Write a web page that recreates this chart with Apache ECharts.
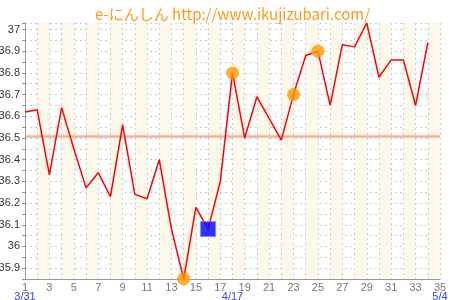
<!DOCTYPE html>
<html><head><meta charset="utf-8">
<script src="https://cdn.jsdelivr.net/npm/echarts@6/dist/echarts.min.js"></script>
<style>html,body{margin:0;padding:0;background:#fff}#c{width:450px;height:300px}</style>
</head><body><div id="c"></div>
<script>
var days = [];
for (var i = 1; i <= 35; i++) days.push(String(i));
var temps = [36.62,36.63,36.33,36.64,36.45,36.27,36.34,36.23,36.56,36.24,36.22,36.40,36.08,35.85,36.18,36.08,36.30,36.80,36.50,36.69,36.59,36.49,36.70,36.88,36.90,36.65,36.93,36.92,37.03,36.78,36.86,36.86,36.65,36.94];
var dateLabels = {1:'3/31', 18:'4/17', 35:'5/4'};
var orangeDays = [14,18,23,25];
var blueDays = [16];
var coverLine = 36.51;
var yMin = 35.85, yMax = 37.03;

var dateCats = days.map(function(d){ return dateLabels[d] || ''; });

var chart = echarts.init(document.getElementById('c'), null, {renderer:'canvas'});
chart.setOption({
  animation: false,
  title: {
    text: 'e-にんしん http://www.ikujizubari.com/',
    left: 90, top: 2,
    textStyle: {color:'#ff9a1a', fontSize:15, fontWeight:'normal', fontFamily:'Noto Sans CJK JP'}
  },
  grid: {left:25, right:10, top:23, bottom:21, containLabel:false, outerBoundsMode:'none'},
  xAxis: [{
    type:'category', data: days, boundaryGap:false,
    axisLine:{show:true, lineStyle:{color:'#999'}},
    axisTick:{show:false},
    axisLabel:{interval:1, color:'#777', fontSize:11, fontFamily:'Liberation Sans', margin:3},
    splitLine:{show:true, interval:0, lineStyle:{color:'#ccc', type:[2,3]}},
    splitArea:{show:true, interval:0, areaStyle:{color:['rgba(255,255,255,0)','#fdf8ea']}}
  },{
    type:'category', data: dateCats, boundaryGap:false, position:'bottom', offset:9,
    axisLine:{show:false}, axisTick:{show:false},
    axisLabel:{interval:0, color:'#3344ee', fontSize:11, fontFamily:'Liberation Sans', margin:3},
    splitLine:{show:false}
  }],
  yAxis: {
    type:'value', min:yMin, max:yMax, interval:0.05,
    axisLine:{show:true, lineStyle:{color:'#999'}},
    axisTick:{show:true, length:3, lineStyle:{color:'#999'}},
    axisLabel:{
      color:'#333', fontSize:11, fontFamily:'Liberation Sans', margin:5,
      formatter:function(v){
        var t = Math.round(v*10)/10;
        if (Math.abs(v - t) > 0.001) return '';
        return String(t);
      }
    },
    splitLine:{show:true, lineStyle:{color:'#ccc', type:[2,3]}}
  },
  series: [{
    type:'line', data: temps, symbol:'none', z:3,
    lineStyle:{color:'#ff0000', width:1.5},
    markLine:{
      silent:true, symbol:'none', label:{show:false}, z:2,
      lineStyle:{color:'#f9a07f', width:2.5, type:'solid', opacity:0.85},
      data:[{yAxis: coverLine}]
    }
  },{
    type:'scatter', symbol:'circle', symbolSize:13, z:4,
    itemStyle:{color:'#ff9900'},
    data: orangeDays.map(function(d){ return [d-1, temps[d-1]]; })
  },{
    type:'scatter', symbol:'rect', symbolSize:15, z:4,
    itemStyle:{color:'#0000ff', borderColor:'#6f8cff', borderWidth:1},
    data: blueDays.map(function(d){ return [d-1, temps[d-1]]; })
  }]
});
</script></body></html>
